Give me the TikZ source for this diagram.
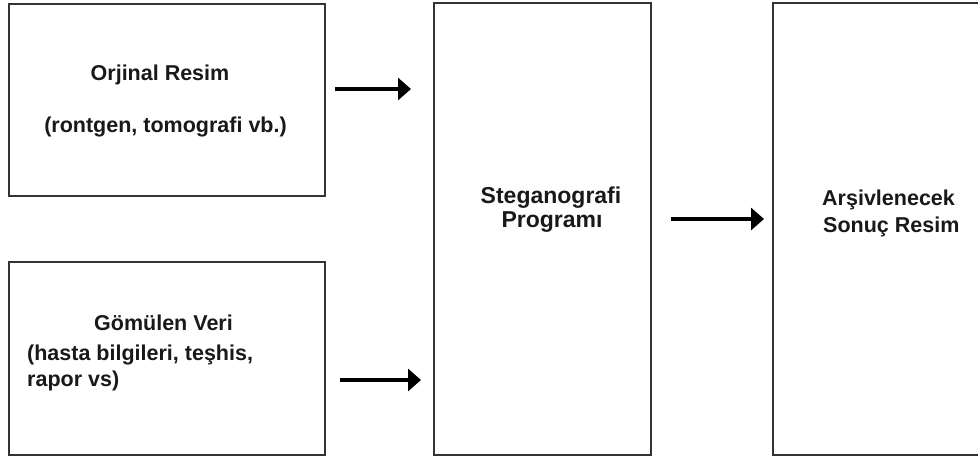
\documentclass[tikz,border=0pt]{standalone}
\usepackage{fontspec}
\setmainfont{Liberation Sans}
\usetikzlibrary{arrows.meta}
\begin{document}
\begin{tikzpicture}[x=1pt,y=-1pt,
  box/.style={draw=black!80,line width=1.8pt,fill=white,rectangle,inner sep=0pt,anchor=north west},
  lbl/.style={font=\fontsize{21.5}{26}\selectfont\bfseries,inner sep=0pt,text=black!90},
  biglbl/.style={lbl,font=\fontsize{23}{27}\selectfont\bfseries},
  arr/.style={line width=4.5pt,-{Triangle[length=13pt,width=22pt]}}]
\useasboundingbox (0,0) rectangle (978,459);
\clip (0,0) rectangle (978,459);
% boxes
\node[box,minimum width=316pt,minimum height=192pt] (b1) at (8,3) {};
\node[box,minimum width=316pt,minimum height=193pt] (b2) at (8,261) {};
\node[box,minimum width=217pt,minimum height=452pt] (b3) at (433,2) {};
\node[box,minimum width=240pt,minimum height=452pt] (b4) at (772,2) {};
% texts
\node[lbl,anchor=base] (t1a) at (160,80) {Orjinal Resim};
\node[lbl,anchor=base] (t1b) at (165.5,132) {(rontgen, tomografi vb.)};
\node[lbl,anchor=base] (t2a) at (163.5,330) {Gömülen Veri};
\node[lbl,anchor=base west] (t2b) at (27,360) {(hasta bilgileri, teşhis,};
\node[lbl,anchor=base west] (t2c) at (27,386) {rapor vs)};
\node[biglbl,anchor=base] (t3a) at (551,203) {Steganografi};
\node[biglbl,anchor=base] (t3b) at (552,227) {Programı};
\node[lbl,anchor=base west] (t4a) at (822,205) {Arşivlenecek};
\node[lbl,anchor=base west] (t4b) at (823,232) {Sonuç Resim};
% arrow end points
\coordinate (a1s) at (335,89);
\coordinate (a1e) at (411,89);
\coordinate (a2s) at (340,380);
\coordinate (a2e) at (421,380);
\coordinate (a3s) at (671,219);
\coordinate (a3e) at (764,219);
\draw[arr] (a1s) -- (a1e);
\draw[arr] (a2s) -- (a2e);
\draw[arr] (a3s) -- (a3e);
\end{tikzpicture}
\end{document}
